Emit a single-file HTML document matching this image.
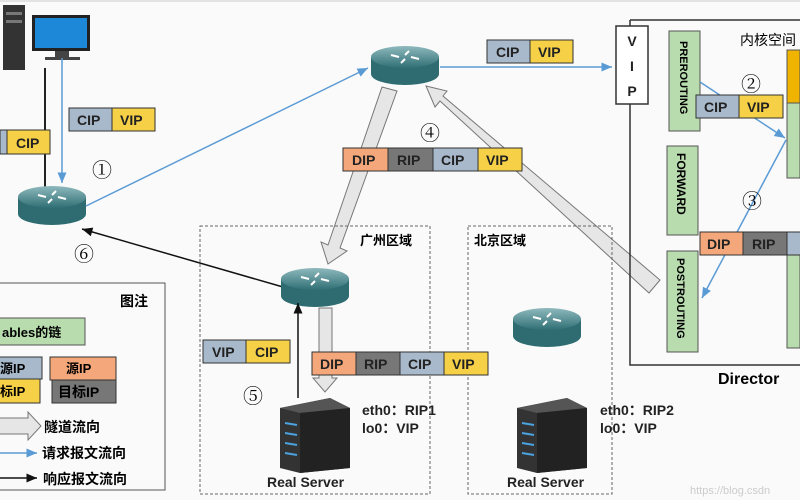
<!DOCTYPE html>
<html><head><meta charset="utf-8"><style>
body{margin:0;background:#fafafa}
svg{display:block}
text{font-family:"Liberation Sans","Noto Sans CJK SC",sans-serif}
.b{font-weight:bold;font-size:14px;fill:#222}
.n{font-size:20px;font-family:"Liberation Serif","Noto Serif CJK SC",serif}
</style></head><body>
<svg width="800" height="500" viewBox="0 0 800 500">
<defs>
<marker id="ab" markerWidth="8" markerHeight="8" refX="7" refY="4" orient="auto"><path d="M0,1 L7,4 L0,7z" fill="#5b9bd5"/></marker>
<marker id="ak" markerWidth="8" markerHeight="8" refX="7" refY="4" orient="auto"><path d="M0,1 L7,4 L0,7z" fill="#111"/></marker>
<linearGradient id="rg" x1="0" y1="0" x2="0" y2="1"><stop offset="0" stop-color="#8fb9bd"/><stop offset="1" stop-color="#2f6f75"/></linearGradient>
<g id="router"><path d="M-34,-8 L-34,9 A34,11 0 0 0 34,9 L34,-8z" fill="#2e6c72"/><ellipse cx="0" cy="-8" rx="34" ry="11" fill="url(#rg)"/><path d="M-14,-10 l8,2 M14,-6 l-8,-2 M4,-14 l-4,4 M-4,-2 l4,-4" stroke="#fff" stroke-width="2"/></g>
<g id="server"><path d="M0,10 L50,0 L70,10 L70,70 L20,75 L0,70z" fill="#333"/><path d="M0,10 L50,0 L70,10 L20,15z" fill="#555"/><path d="M20,15 L70,10 L70,70 L20,75z" fill="#222"/><g stroke="#4aa3df" stroke-width="2"><path d="M5,25 l12,2 M5,35 l12,2 M5,45 l12,2 M5,55 l12,2"/></g></g>
</defs>
<rect width="800" height="500" fill="#fafafa"/>
<line x1="0" y1="1" x2="800" y2="1" stroke="#ccc"/>
<rect x="3" y="5" width="22" height="65" fill="#333"/><rect x="6" y="12" width="16" height="3" fill="#777"/><rect x="6" y="20" width="16" height="3" fill="#777"/>
<rect x="32" y="15" width="58" height="36" fill="#222"/><rect x="35" y="18" width="52" height="30" fill="#1e88d8"/><rect x="55" y="51" width="14" height="6" fill="#444"/><rect x="45" y="57" width="35" height="3" fill="#444"/>
<line x1="45" y1="68" x2="45" y2="190" stroke="#222" stroke-width="2"/>
<line x1="62" y1="58" x2="62" y2="183" stroke="#5b9bd5" stroke-width="1.5" marker-end="url(#ab)"/>
<rect x="0" y="130" width="7" height="24" fill="#a9b9cc" stroke="#333"/><rect x="7" y="130" width="43" height="24" fill="#f6d046" stroke="#333"/><text x="16" y="148" class="b">CIP</text>
<rect x="69" y="108" width="43" height="23" fill="#a9b9cc" stroke="#333"/><rect x="112" y="108" width="43" height="23" fill="#f6d046" stroke="#333"/><text x="77" y="125" class="b">CIP</text><text x="120" y="125" class="b">VIP</text>
<text x="92" y="177" class="n">①</text><text x="74" y="261" class="n">⑥</text>
<use href="#router" x="52" y="205"/>
<line x1="86" y1="206" x2="368" y2="68" stroke="#5b9bd5" stroke-width="1.5" marker-end="url(#ab)"/>
<line x1="283" y1="287" x2="82" y2="229" stroke="#111" stroke-width="1.5" marker-end="url(#ak)"/>
<use href="#router" x="405" y="65"/>
<line x1="440" y1="67" x2="612" y2="67" stroke="#5b9bd5" stroke-width="1.5" marker-end="url(#ab)"/>
<rect x="487" y="40" width="43" height="23" fill="#a9b9cc" stroke="#333"/><rect x="530" y="40" width="43" height="23" fill="#f6d046" stroke="#333"/><text x="496" y="57" class="b">CIP</text><text x="538" y="57" class="b">VIP</text>
<path d="M382,87 L397,91 L340,248 L347,251 L328,264 L321,242 L328,245 Z" fill="#e6e6e6" stroke="#777"/>
<path d="M660,280 L649,293 L440,101 L435,107 L426,86 L447,91 L443,96 Z" fill="#e6e6e6" stroke="#777"/>
<text x="420" y="140" class="n">④</text>
<rect x="343" y="148" width="45" height="23" fill="#f4a77a" stroke="#333"/><rect x="388" y="148" width="45" height="23" fill="#777" stroke="#333"/><rect x="433" y="148" width="45" height="23" fill="#a9b9cc" stroke="#333"/><rect x="478" y="148" width="44" height="23" fill="#f6d046" stroke="#333"/>
<text x="352" y="165" class="b">DIP</text><text x="397" y="165" class="b">RIP</text><text x="441" y="165" class="b">CIP</text><text x="486" y="165" class="b">VIP</text>
<rect x="200" y="226" width="230" height="268" fill="none" stroke="#666" stroke-dasharray="3,2"/>
<rect x="468" y="226" width="144" height="268" fill="none" stroke="#666" stroke-dasharray="3,2"/>
<text x="360" y="245" font-size="13" font-weight="bold">广州区域</text><text x="474" y="245" font-size="13" font-weight="bold">北京区域</text>
<use href="#router" x="315" y="287"/><use href="#router" x="547" y="327"/>
<path d="M319,308 L332,308 L332,378 L337,378 L325,392 L313,378 L319,378 Z" fill="#e6e6e6" stroke="#777"/>
<line x1="298" y1="398" x2="298" y2="303" stroke="#111" stroke-width="1.5" marker-end="url(#ak)"/>
<rect x="203" y="340" width="43" height="23" fill="#a9b9cc" stroke="#333"/><rect x="246" y="340" width="44" height="23" fill="#f6d046" stroke="#333"/><text x="212" y="357" class="b">VIP</text><text x="255" y="357" class="b">CIP</text>
<rect x="312" y="352" width="44" height="23" fill="#f4a77a" stroke="#333"/><rect x="356" y="352" width="44" height="23" fill="#777" stroke="#333"/><rect x="400" y="352" width="44" height="23" fill="#a9b9cc" stroke="#333"/><rect x="444" y="352" width="44" height="23" fill="#f6d046" stroke="#333"/>
<text x="320" y="369" class="b">DIP</text><text x="364" y="369" class="b">RIP</text><text x="408" y="369" class="b">CIP</text><text x="452" y="369" class="b">VIP</text>
<text x="243" y="403" class="n">⑤</text>
<use href="#server" x="280" y="398"/><use href="#server" x="517" y="398"/>
<text x="267" y="487" class="b" font-size="13">Real Server</text><text x="507" y="487" class="b" font-size="13">Real Server</text>
<text x="362" y="415" class="b" font-size="13">eth0：RIP1</text><text x="362" y="433" class="b" font-size="13">lo0：VIP</text>
<text x="600" y="415" class="b" font-size="13">eth0：RIP2</text><text x="600" y="433" class="b" font-size="13">lo0：VIP</text>
<path d="M630,20 L800,20 M630,20 L630,365 L800,365" fill="none" stroke="#333" stroke-width="1.5"/>
<rect x="616" y="26" width="32" height="78" fill="#fff" stroke="#333" stroke-width="1.5"/>
<text x="632" y="46" class="b" font-size="17" text-anchor="middle">V</text><text x="632" y="71" class="b" font-size="17" text-anchor="middle">I</text><text x="632" y="96" class="b" font-size="17" text-anchor="middle">P</text>
<text x="740" y="45" font-size="14">内核空间</text>
<rect x="669" y="31" width="31" height="100" fill="#b8dcae" stroke="#555"/><text transform="translate(680,41) rotate(90)" font-size="11" font-weight="bold">PREROUTING</text>
<rect x="667" y="146" width="31" height="89" fill="#b8dcae" stroke="#555"/><text transform="translate(677,153) rotate(90)" font-size="12" font-weight="bold">FORWARD</text>
<rect x="667" y="251" width="31" height="101" fill="#b8dcae" stroke="#555"/><text transform="translate(677,258) rotate(90)" font-size="11" font-weight="bold">POSTROUTING</text>
<rect x="787" y="50" width="13" height="53" fill="#f0b400" stroke="#555"/><rect x="787" y="103" width="13" height="75" fill="#b8dcae" stroke="#555"/><rect x="787" y="255" width="13" height="93" fill="#b8dcae" stroke="#555"/>
<line x1="700" y1="82" x2="785" y2="138" stroke="#5b9bd5" stroke-width="1.5" marker-end="url(#ab)"/>
<line x1="786" y1="140" x2="702" y2="298" stroke="#5b9bd5" stroke-width="1.5" marker-end="url(#ab)"/>
<rect x="696" y="95" width="43" height="23" fill="#a9b9cc" stroke="#333"/><rect x="739" y="95" width="44" height="23" fill="#f6d046" stroke="#333"/><text x="704" y="112" class="b">CIP</text><text x="747" y="112" class="b">VIP</text>
<text x="741" y="91" class="n">②</text><text x="742" y="208" class="n">③</text>
<rect x="700" y="232" width="43" height="23" fill="#f4a77a" stroke="#333"/><rect x="743" y="232" width="44" height="23" fill="#777" stroke="#333"/><rect x="787" y="232" width="15" height="23" fill="#a9b9cc" stroke="#333"/>
<text x="707" y="249" class="b">DIP</text><text x="752" y="249" class="b">RIP</text>
<text x="718" y="384" font-size="16" font-weight="bold">Director</text>
<text x="690" y="494" font-size="11" fill="#ccc">https://blog.csdn</text>
<rect x="-1" y="283" width="166" height="207" fill="#fafafa" stroke="#555"/>
<text x="120" y="306" font-size="14" font-weight="bold">图注</text>
<rect x="-1" y="318" width="86" height="27" fill="#b8dcae" stroke="#555"/><text x="2" y="337" font-size="13" font-weight="bold">ables的链</text>
<rect x="-1" y="357" width="43" height="22" fill="#a9b9cc" stroke="#333"/><rect x="-1" y="379" width="41" height="24" fill="#f6d046" stroke="#333"/>
<text x="0" y="373" font-size="13" font-weight="bold">源IP</text><text x="0" y="396" font-size="13" font-weight="bold">标IP</text>
<rect x="50" y="357" width="66" height="23" fill="#f4a77a" stroke="#333"/><rect x="52" y="380" width="64" height="23" fill="#777" stroke="#333"/>
<text x="66" y="373" font-size="13" font-weight="bold">源IP</text><text x="58" y="397" font-size="14" font-weight="bold">目标IP</text>
<path d="M-1,418 L28,418 L28,412 L41,426 L28,440 L28,434 L-1,434 Z" fill="#e6e6e6" stroke="#777"/>
<text x="44" y="432" font-size="14" font-weight="bold">隧道流向</text>
<line x1="0" y1="453" x2="37" y2="453" stroke="#5b9bd5" stroke-width="1.5" marker-end="url(#ab)"/><text x="42" y="458" font-size="14" font-weight="bold">请求报文流向</text>
<line x1="0" y1="478" x2="37" y2="478" stroke="#111" stroke-width="1.5" marker-end="url(#ak)"/><text x="43" y="484" font-size="14" font-weight="bold">响应报文流向</text>
</svg>
</body></html>
